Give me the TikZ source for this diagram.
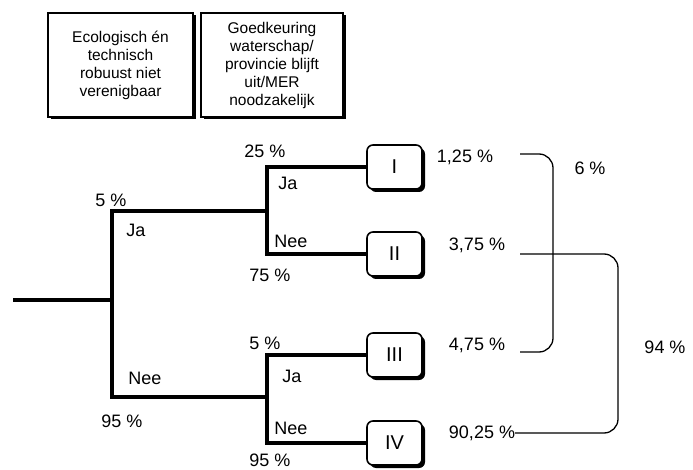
\documentclass[tikz,border=0pt]{standalone}
\usepackage{fontspec}
\setmainfont{Liberation Sans}
\usetikzlibrary{shadows}

\begin{document}
\begin{tikzpicture}[x=1pt,y=-1pt,
  tak/.style={line width=3.4pt,line cap=rect},
  info/.style={draw,line width=1.5pt,fill=white,align=center,
    minimum height=104pt,font=\fontsize{15.5}{18}\selectfont,
    drop shadow={shadow xshift=2.5pt,shadow yshift=-2.5pt,fill=black,opacity=1}},
  scen/.style={draw,line width=1.6pt,fill=white,rounded corners=6pt,
    minimum width=55pt,minimum height=44pt,font=\fontsize{20}{24}\selectfont,
    drop shadow={shadow xshift=3pt,shadow yshift=-3pt,fill=black,opacity=1}},
  lbl/.style={font=\fontsize{18}{21}\selectfont,inner sep=0pt},
  haak/.style={line width=1.3pt,rounded corners=14pt}]
  \useasboundingbox (0,0) rectangle (693,470);
  % kaders boven
  \node[info,minimum width=145pt](eco) at (120.5,65)
    {Ecologisch én\\technisch\\robuust niet\\verenigbaar};
  \node[info,minimum width=142pt](goed) at (272,65)
    {Goedkeuring\\waterschap/\\provincie blijft\\uit/MER\\noodzakelijk};
  % scenario's
  \node[scen](s1) at (394.5,167){I};
  \node[scen](s2) at (394.5,254){II};
  \node[scen](s3) at (394.5,355){III};
  \node[scen](s4) at (394.5,443){IV};
  % beslisboom
  \coordinate (wortel) at (15,300);
  \coordinate (k1) at (112,300);
  \coordinate (k2) at (267,211);
  \coordinate (k3) at (267,397);
  \draw[tak] (wortel) -- (k1);
  \draw[tak] (k1) |- (k2);
  \draw[tak] (k1) |- (k3);
  \draw[tak] (k2) |- (s1.west);
  \draw[tak] (k2) |- (s2.west);
  \draw[tak] (k3) |- (s3.west);
  \draw[tak] (k3) |- (s4.west);
  % labels
  \node[lbl] at (111,200){5 \%};
  \node[lbl] at (136,230){Ja};
  \node[lbl] at (145,378){Nee};
  \node[lbl] at (122,421){95 \%};
  \node[lbl] at (265,151){25 \%};
  \node[lbl] at (288,183){Ja};
  \node[lbl] at (291,241){Nee};
  \node[lbl] at (270,275){75 \%};
  \node[lbl] at (265,343){5 \%};
  \node[lbl] at (292,376){Ja};
  \node[lbl] at (291,428){Nee};
  \node[lbl] at (270,460){95 \%};
  % kansen
  \node[lbl](p1) at (465,157){1,25 \%};
  \node[lbl](p2) at (477,245){3,75 \%};
  \node[lbl](p3) at (477,345){4,75 \%};
  \node[lbl](p4) at (482,433){90,25 \%};
  \node[lbl](zes) at (590,168){6 \%};
  \node[lbl](negen) at (665,347){94 \%};
  % haken
  \coordinate (h1) at (520,154);
  \coordinate (h3) at (520,352);
  \coordinate (h2) at (520,254);
  \draw[haak] (h1) -| (553,253) |- (h3);
  \draw[haak] (h2) -| (618,350) |- (p4.east);
\end{tikzpicture}
\end{document}
